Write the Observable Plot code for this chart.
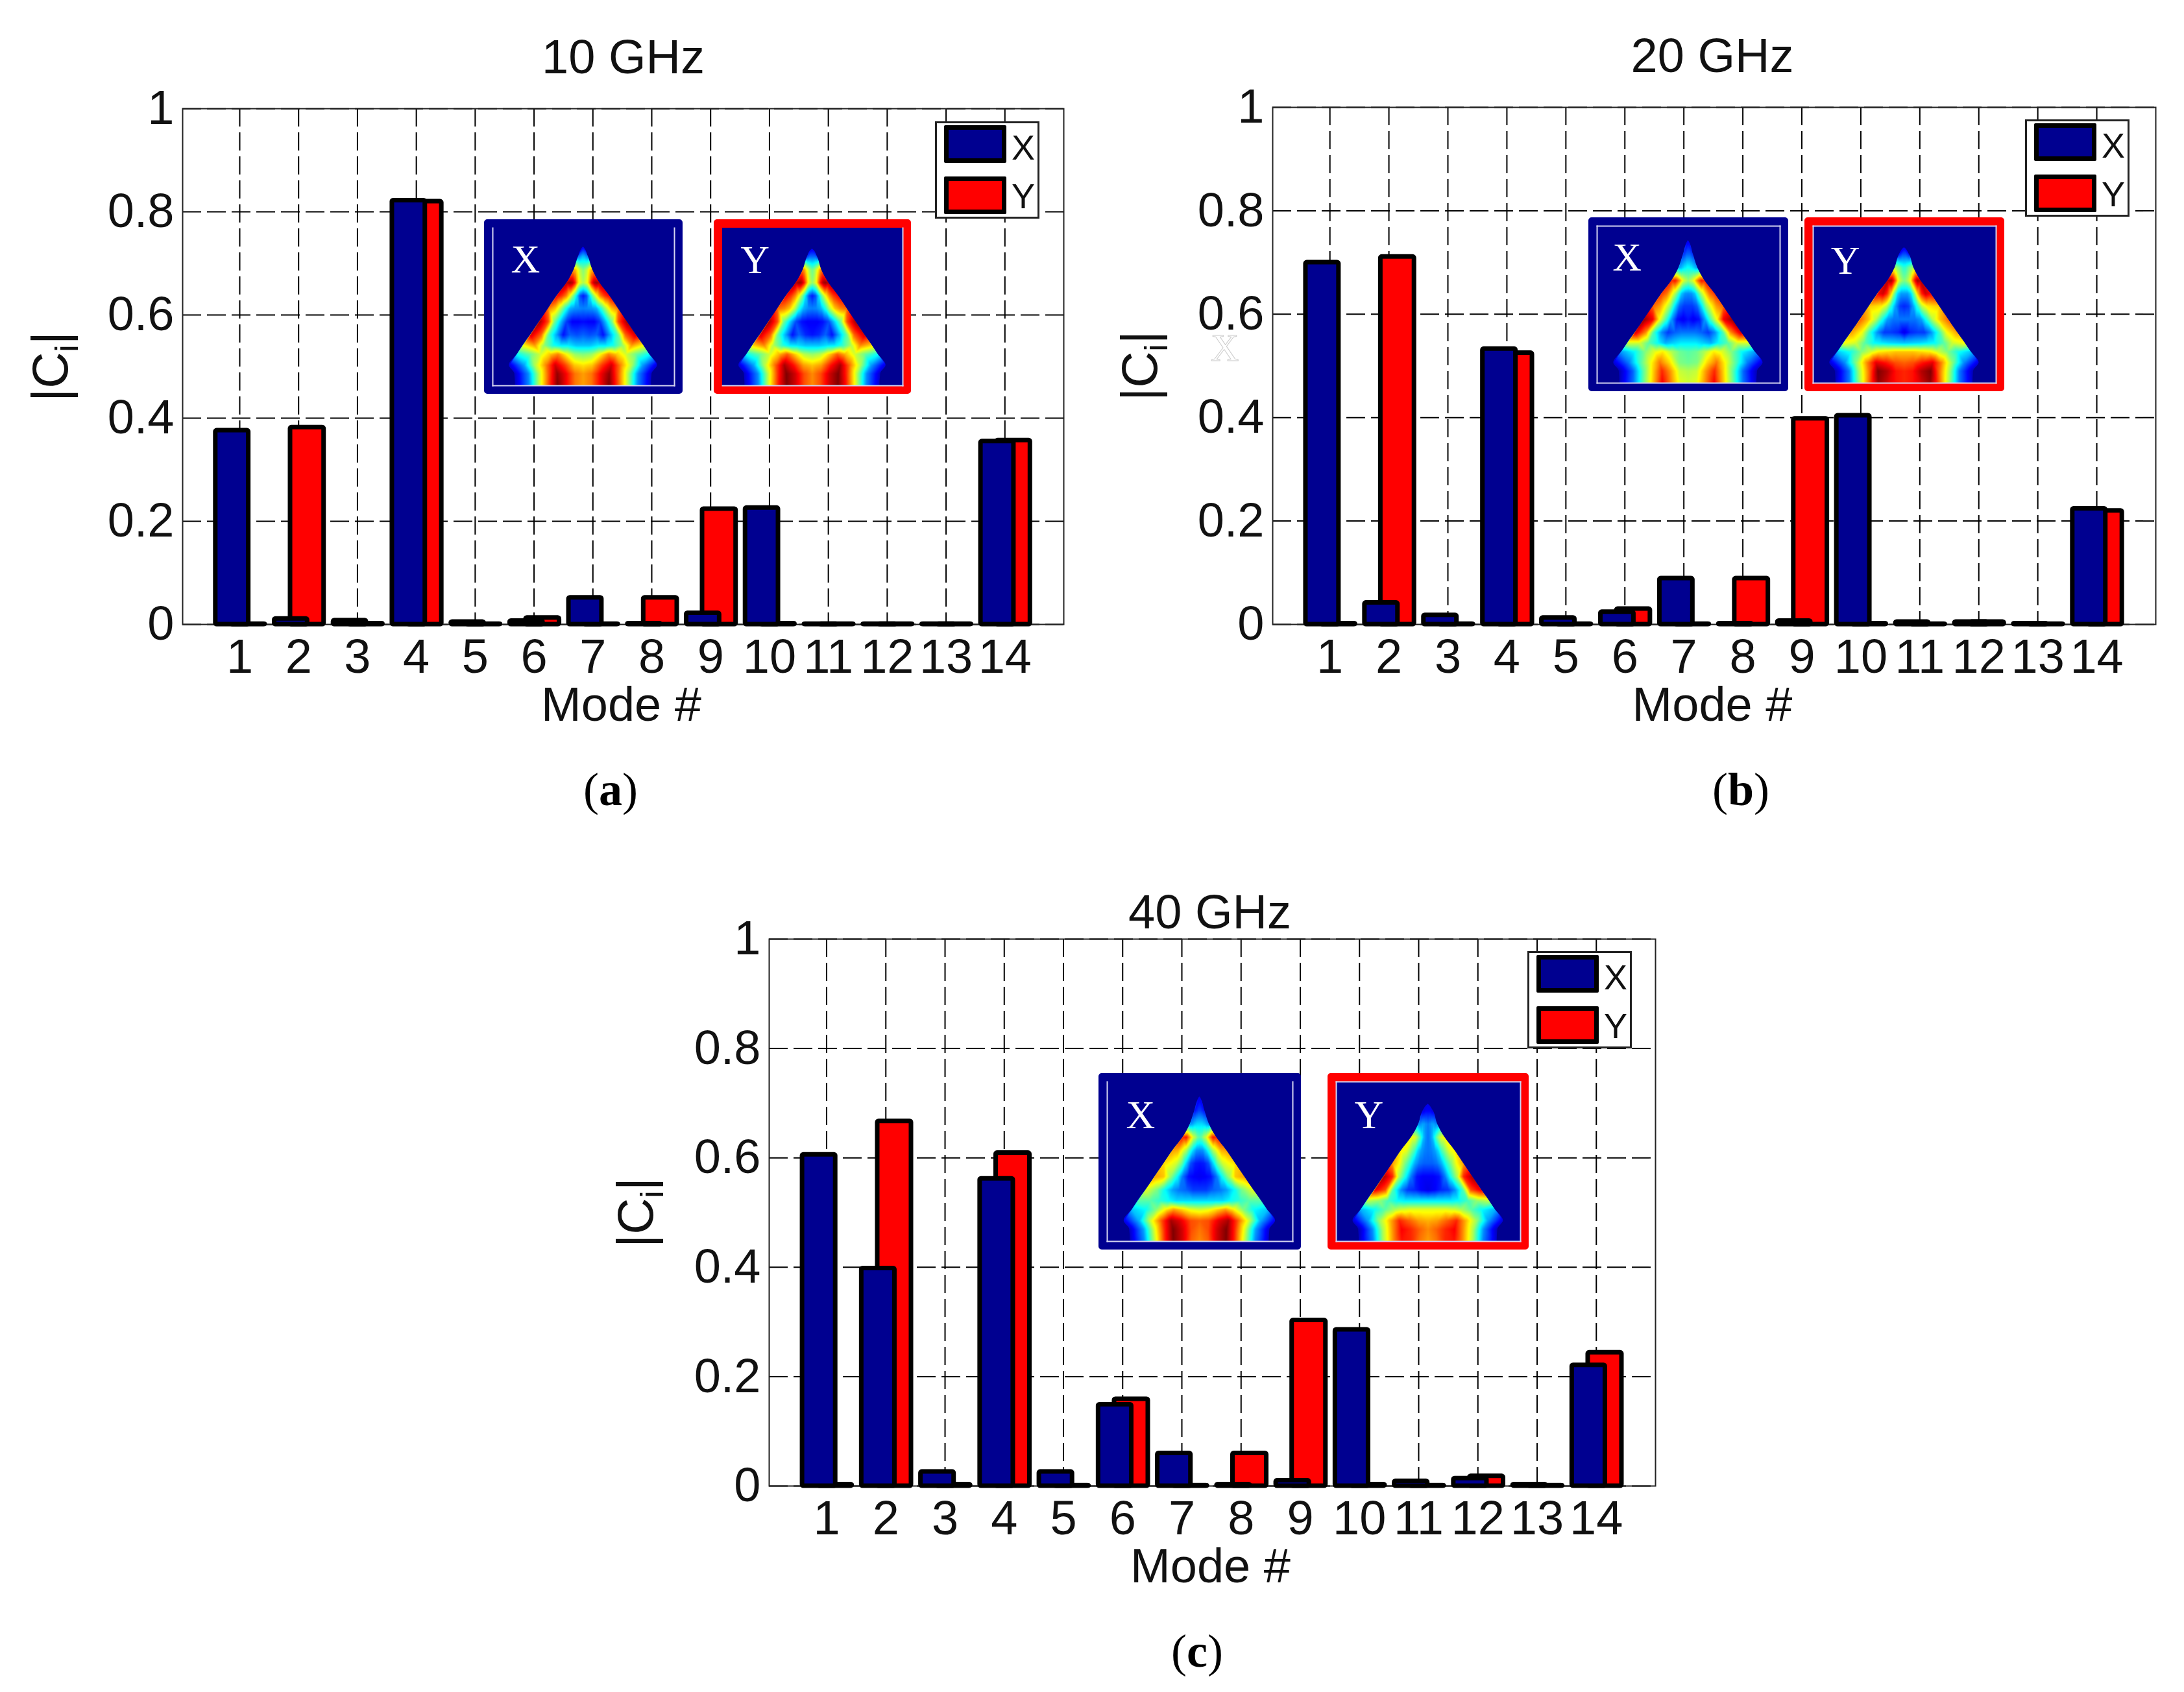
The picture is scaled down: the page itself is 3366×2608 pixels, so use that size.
<!DOCTYPE html>
<html>
<head>
<meta charset="utf-8">
<script src="https://cdn.jsdelivr.net/npm/d3@7"></script>
<script src="https://cdn.jsdelivr.net/npm/@observablehq/plot@0.6"></script>
<style>
  html, body { margin: 0; background: #fff; overflow: hidden; }
  #page { position: relative; width: 3366px; height: 2608px; font-family: "Liberation Sans", sans-serif; color: #111; }
  #page > div, .legend > div { position: absolute; box-sizing: border-box; }
  .legend { background: #fff; border: 3px solid #222; }
  .swatch { border: 7px solid #000; border-radius: 2px; }
  .ylabel { font-size: 78px; line-height: 1; white-space: nowrap; transform: translate(-50%, -50%) rotate(-90deg); }
  .ylabel sub { font-size: 50px; }
  .caption { font-family: "Liberation Serif", serif; font-size: 72px; line-height: 1; transform: translateX(-50%); color: #000; }
  svg.plot { display: block; }
</style>
</head>
<body>
<div id="page"></div>
<script>
const modes = [1, 2, 3, 4, 5, 6, 7, 8, 9, 10, 11, 12, 13, 14];
const yTicks = [0, 0.2, 0.4, 0.6, 0.8, 1];

const x10 = [0.376, 0.011, 0.008, 0.822, 0.005, 0.007, 0.052, 0.002, 0.022, 0.226, 0.001, 0.001, 0.001, 0.355];
const y10 = [0.001, 0.382, 0.002, 0.82, 0.001, 0.013, 0.001, 0.052, 0.224, 0.002, 0.001, 0.001, 0.001, 0.357];
const x20 = [0.7, 0.042, 0.018, 0.533, 0.013, 0.024, 0.089, 0.002, 0.007, 0.404, 0.005, 0.005, 0.002, 0.224];
const y20 = [0.002, 0.711, 0.001, 0.525, 0.001, 0.03, 0.001, 0.089, 0.398, 0.002, 0.001, 0.005, 0.001, 0.22];
const x40 = [0.606, 0.398, 0.026, 0.562, 0.026, 0.149, 0.06, 0.003, 0.01, 0.286, 0.009, 0.014, 0.003, 0.221];
const y40 = [0.003, 0.667, 0.003, 0.609, 0.001, 0.159, 0.001, 0.06, 0.303, 0.003, 0.001, 0.018, 0.001, 0.244];

// inset field maps: rows run apex to base, columns run centre line to flank (mirrored when drawn)
const rowV = [0.18, 0.264, 0.347, 0.43, 0.51, 0.594, 0.677, 0.745, 0.8, 0.87, 0.924, 1];
const rowHalf = [0.027, 0.051, 0.09, 0.145, 0.192, 0.241, 0.29, 0.332, 0.364, 0.408, 0.378, 0.374];
const colPos = [0, 0.12, 0.25, 0.38, 0.5, 0.65, 0.8, 1];

const map10X = [
  [30, 30, 30, 28, 28, 26, 25, 24],
  [50, 52, 54, 56, 60, 64, 68, 70],
  [55, 58, 62, 72, 85, 94, 97, 95],
  [15, 20, 35, 50, 62, 75, 82, 88],
  [25, 26, 27, 30, 40, 55, 68, 76],
  [13, 12, 12, 18, 30, 48, 80, 97],
  [22, 20, 22, 14, 28, 45, 78, 92],
  [32, 32, 36, 36, 40, 52, 72, 62],
  [50, 52, 62, 74, 68, 58, 48, 38],
  [65, 68, 82, 92, 75, 55, 28, 8],
  [72, 76, 88, 98, 80, 55, 26, 6],
  [72, 76, 88, 100, 82, 56, 26, 6]];
const map10Y = [
  [22, 22, 22, 22, 22, 22, 20, 18],
  [48, 50, 52, 56, 60, 64, 70, 75],
  [52, 56, 62, 75, 86, 95, 98, 95],
  [15, 20, 34, 50, 62, 74, 82, 88],
  [25, 26, 30, 40, 55, 68, 74, 78],
  [12, 12, 14, 20, 32, 48, 80, 97],
  [14, 16, 22, 14, 28, 46, 78, 92],
  [32, 32, 35, 36, 42, 55, 74, 66],
  [52, 55, 66, 78, 70, 58, 48, 38],
  [68, 72, 86, 96, 78, 55, 28, 8],
  [74, 80, 92, 100, 84, 56, 26, 6],
  [74, 80, 92, 100, 86, 58, 26, 6]];
const map20X = [
  [22, 22, 22, 22, 20, 20, 18, 18],
  [38, 38, 36, 36, 34, 32, 30, 28],
  [52, 55, 58, 64, 72, 80, 86, 84],
  [26, 27, 32, 44, 55, 66, 76, 82],
  [18, 18, 22, 35, 50, 62, 72, 78],
  [14, 11, 14, 28, 44, 62, 88, 98],
  [24, 24, 22, 18, 26, 44, 74, 92],
  [36, 36, 33, 30, 38, 46, 58, 58],
  [46, 48, 55, 64, 60, 50, 38, 28],
  [48, 50, 66, 76, 62, 44, 24, 8],
  [55, 57, 72, 84, 68, 46, 22, 4],
  [58, 60, 74, 88, 70, 48, 24, 6]];
const map20Y = [
  [20, 20, 20, 20, 18, 18, 16, 14],
  [42, 42, 44, 46, 48, 50, 52, 54],
  [50, 52, 56, 62, 75, 88, 97, 95],
  [28, 28, 34, 50, 68, 84, 92, 88],
  [16, 18, 28, 42, 56, 64, 66, 68],
  [24, 24, 24, 28, 40, 56, 68, 78],
  [10, 16, 18, 18, 26, 42, 62, 72],
  [32, 33, 34, 36, 38, 46, 58, 62],
  [68, 68, 66, 64, 58, 50, 40, 32],
  [78, 80, 86, 90, 74, 50, 26, 8],
  [84, 86, 95, 100, 78, 54, 24, 4],
  [84, 86, 92, 98, 80, 54, 25, 6]];
const map40X = [
  [18, 18, 18, 17, 16, 16, 14, 14],
  [34, 34, 34, 33, 32, 30, 28, 26],
  [46, 48, 54, 58, 66, 76, 86, 84],
  [26, 27, 34, 44, 54, 62, 70, 72],
  [14, 15, 20, 34, 48, 58, 62, 66],
  [11, 12, 14, 24, 38, 52, 68, 72],
  [18, 18, 22, 24, 28, 38, 50, 60],
  [34, 34, 34, 34, 38, 42, 46, 46],
  [58, 60, 66, 72, 64, 50, 38, 32],
  [78, 80, 90, 96, 80, 58, 30, 10],
  [76, 80, 92, 100, 84, 58, 28, 6],
  [74, 78, 92, 100, 84, 56, 26, 6]];
const map40Y = [
  [12, 12, 12, 12, 12, 11, 10, 10],
  [24, 26, 26, 28, 28, 28, 26, 26],
  [24, 26, 30, 38, 46, 54, 60, 62],
  [24, 25, 28, 34, 44, 52, 60, 64],
  [22, 22, 24, 30, 40, 50, 62, 72],
  [12, 12, 14, 24, 38, 54, 84, 96],
  [10, 12, 16, 18, 26, 44, 80, 90],
  [36, 36, 36, 36, 38, 44, 52, 56],
  [60, 60, 60, 58, 54, 46, 38, 30],
  [70, 72, 78, 84, 70, 52, 28, 8],
  [74, 78, 84, 88, 74, 54, 26, 4],
  [72, 76, 84, 86, 74, 54, 25, 6]];

const navy = "#000090", red = "#ff0000";
const jetDomain = [0, 12.5, 37.5, 62.5, 87.5, 100];
const jetRange = ["#00008f", "#0000ff", "#00ffff", "#ffff00", "#ff0000", "#800000"];
const barX = [-0.41, 0.15], barY = [-0.14, 0.43];
const font = "'Liberation Sans', sans-serif", serif = "'Liberation Serif', serif";
const M = {left: 210, right: 10, top: 120, bottom: 200};
const center = 0.498;

const page = document.getElementById("page");

function addDiv(cls, left, top, html) {
  const el = document.createElement("div");
  el.className = cls;
  el.style.left = left + "px";
  el.style.top = top + "px";
  if (html) el.innerHTML = html;
  page.append(el);
  return el;
}

function barChart(p) {
  const rows = vals => modes.map((m, i) => ({mode: m, value: vals[i]}));
  const bars = (vals, off, fill) => Plot.rect(rows(vals), {
    x1: d => d.mode + off[0], x2: d => d.mode + off[1], y1: 0, y2: "value",
    fill, stroke: "#000", strokeWidth: 7, rx: 2,
  });
  const chart = Plot.plot({
    width: M.left + p.w + M.right,
    height: M.top + p.h + M.bottom,
    marginLeft: M.left, marginRight: M.right, marginTop: M.top, marginBottom: M.bottom,
    style: {fontFamily: font, fontSize: "74px", color: "#111", background: "none", overflow: "visible", maxWidth: "none"},
    x: {domain: [0.03, 15]},
    y: {domain: [0, 1]},
    marks: [
      Plot.gridX(modes, {stroke: "#000", strokeOpacity: 1, strokeWidth: 2, strokeDasharray: "28,9"}),
      Plot.gridY(yTicks, {stroke: "#000", strokeOpacity: 1, strokeWidth: 2, strokeDasharray: "29,9"}),
      Plot.frame({stroke: "#222", strokeWidth: 2}),
      bars(p.y, barY, red),
      bars(p.x, barX, navy),
      Plot.axisX(modes, {tickSize: 0, tickPadding: 22, tickFormat: String, label: null}),
      Plot.axisY(yTicks, {tickSize: 0, tickPadding: 13, tickFormat: String, label: null}),
      Plot.text([p.title], {frameAnchor: "top", dy: -p.titleGap, lineAnchor: "bottom", dx: p.titleDx}),
      Plot.text(["Mode #"], {frameAnchor: "bottom", dy: 148, lineAnchor: "bottom", dx: -3}),
    ],
  });
  const wrap = addDiv("", p.left - M.left, p.top - M.top);
  wrap.append(chart);
}

function insetMap(m) {
  const pts = [];
  colPos.forEach(() => pts.push({u: center, v: m.apex, value: 10}));
  m.map.forEach((row, r) => {
    row.forEach((value, c) => {
      const u = colPos[c] * rowHalf[r];
      pts.push({u: center - u, v: rowV[r], value});
      if (c > 0) pts.push({u: center + u, v: rowV[r], value});
    });
  });
  // negative half width above the apex makes the two masks overlap, so no seam shows
  const edge = [
    {v: 0, half: -0.01}, {v: m.apex - 0.005, half: -0.005}, {v: m.apex, half: 0.001},
    ...rowV.map((v, i) => ({v, half: rowHalf[i]})),
  ];
  const sides = m.sides.map(anchor => Plot.frame({anchor, stroke: "#d4d4f0", strokeWidth: 2}));
  const chart = Plot.plot({
    width: m.w - 26, height: m.h - 26,
    marginLeft: 0, marginRight: 0, marginTop: 0, marginBottom: 0,
    style: {background: "none", overflow: "visible", maxWidth: "none"},
    x: {domain: [0, 1], axis: null},
    y: {domain: [0, 1], reverse: true, axis: null},
    color: {type: "linear", domain: jetDomain, range: jetRange, clamp: true},
    marks: [
      Plot.raster(pts, {x: "u", y: "v", fill: "value", interpolate: "barycentric", x1: 0, x2: 1, y1: 0, y2: 1}),
      // everything outside the wedge is background
      Plot.areaX(edge, {y: "v", x1: 0, x2: d => center - d.half, fill: navy, curve: "monotone-y"}),
      Plot.areaX(edge, {y: "v", x1: d => center + d.half, x2: 1, fill: navy, curve: "monotone-y"}),
      ...sides,
      Plot.text([m.label], {x: () => m.lx, y: () => m.ly, fill: "#fff", fontSize: 62, fontFamily: serif}),
    ],
  });
  const box = addDiv("", m.left, m.top);
  box.style.width = m.w + "px";
  box.style.height = m.h + "px";
  box.style.border = "13px solid " + m.border;
  box.style.borderRadius = "5px";
  box.style.background = navy;
  box.append(chart);
}

function legend(left, top) {
  const box = addDiv("legend", left, top);
  box.style.width = "161px";
  box.style.height = "150px";
  [["X", navy, 3, 37], ["Y", red, 82, 112]].forEach(([name, fill, sy, ty]) => {
    const sw = document.createElement("div");
    sw.className = "swatch";
    sw.style.cssText = `left:11px;top:${sy}px;width:96px;height:58px;background:${fill}`;
    const t = document.createElement("div");
    t.textContent = name;
    t.style.cssText = `left:133px;top:${ty}px;font-size:54px;line-height:1;transform:translate(-50%,-50%)`;
    box.append(sw, t);
  });
}

const panels = [
  {title: "10 GHz", tag: "a", x: x10, y: y10, left: 281, top: 167, w: 1358, h: 795, titleGap: 55, titleDx: 0, labelX: 83, capX: 941, capY: 1181, legend: [1441, 187]},
  {title: "20 GHz", tag: "b", x: x20, y: y20, left: 1961, top: 165, w: 1361, h: 797, titleGap: 55, titleDx: -3, labelX: 1762, capX: 2683, capY: 1181, legend: [3121, 184]},
  {title: "40 GHz", tag: "c", x: x40, y: y40, left: 1185, top: 1447, w: 1366, h: 843, titleGap: 17, titleDx: -4, labelX: 985, capX: 1845, capY: 2509, legend: [2354, 1466]},
];

const insets = [
  {map: map10X, label: "X", border: navy, left: 746, top: 338, w: 306, h: 269, apex: 0.12, lx: 0.18, ly: 0.2, sides: ["left", "right", "bottom"]},
  {map: map10Y, label: "Y", border: red, left: 1100, top: 338, w: 304, h: 269, apex: 0.133, lx: 0.18, ly: 0.205, sides: ["right", "bottom"]},
  {map: map20X, label: "X", border: navy, left: 2448, top: 335, w: 308, h: 268, apex: 0.092, lx: 0.164, ly: 0.2, sides: ["left", "right", "bottom", "top"]},
  {map: map20Y, label: "Y", border: red, left: 2781, top: 335, w: 308, h: 268, apex: 0.137, lx: 0.176, ly: 0.22, sides: ["left", "right", "bottom", "top"]},
  {map: map40X, label: "X", border: navy, left: 1693, top: 1654, w: 312, h: 272, apex: 0.095, lx: 0.18, ly: 0.208, sides: ["left", "right", "bottom"]},
  {map: map40Y, label: "Y", border: red, left: 2046, top: 1654, w: 310, h: 272, apex: 0.14, lx: 0.177, ly: 0.208, sides: ["left", "right", "bottom", "top"]},
];

panels.forEach(p => {
  barChart(p);
  addDiv("ylabel", p.labelX, p.top + p.h / 2, "|C<sub>i</sub>|");
  addDiv("caption", p.capX, p.capY, `(<b>${p.tag}</b>)`);
  legend(p.legend[0], p.legend[1]);
});
insets.forEach(insetMap);

// stray faded letter left of the 20 GHz axis
const ghost = addDiv("", 1866, 506, "X");
ghost.style.cssText += `font-family:${serif};font-size:60px;line-height:1;color:#fff;-webkit-text-stroke:1px #ccc`;
</script>
</body>
</html>
